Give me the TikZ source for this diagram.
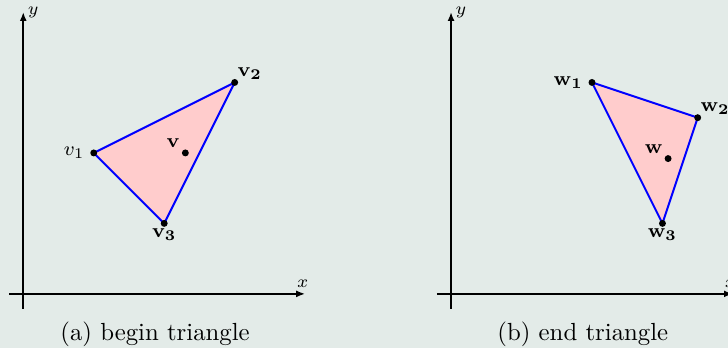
\documentclass[tikz,border=0pt]{standalone}
\usepackage{amsmath,amssymb}
\usepackage{xcolor}
\definecolor{paper}{HTML}{E3EBE8}
\definecolor{blush}{HTML}{FFCCCC}
\usepackage{tikz}
\usetikzlibrary{arrows.meta,positioning,calc}
\tikzset{
  >={Latex[length=3.6pt,width=2.8pt]},
  axis/.style   ={->,draw=black,thick},
  axlbl/.style  ={font=\scriptsize,inner sep=2pt},
  tri/.style    ={draw=blue,thick,fill=blush,line join=round},
  lbl/.style    ={font=\footnotesize,inner sep=2pt},
  captxt/.style ={font=\normalsize,inner sep=1pt},
}

\begin{document}
\begin{tikzpicture}
\path[use as bounding box,fill=paper] (-0.33,-0.77) rectangle (10.0,4.17);
% (a) begin triangle
\coordinate (ax0) at (-0.2,0); \coordinate (ax1) at (4,0);
\coordinate (ay0) at (0,-0.21); \coordinate (ay1) at (0,4);
\draw[axis] (ax0) -- (ax1) node[above,axlbl,xshift=-1pt] (axl) {$x$};
\draw[axis] (ay0) -- (ay1) node[right,axlbl,inner sep=1.5pt] (ayl) {$y$};
\coordinate (v1) at (1,2);
\coordinate (v2) at (3,3);
\coordinate (v3) at (2,1);
\coordinate (v) at (2.3,2);
\draw[tri] (v1) -- (v2) -- (v3) -- cycle;
\foreach \p in {v1,v2,v3,v}
  {\fill (\p) circle (1.4pt);}
\node[lbl,left,inner sep=3.5pt] (lv1) at (v1) {$v_1$};
\node[lbl,above right,inner sep=1pt] (lv2) at (v2) {$\mathbf{v_2}$};
\node[lbl,below] (lv3) at (v3) {$\mathbf{v_3}$};
\node[lbl,above left] (lv) at (v) {$\mathbf{v}$};
\node[captxt] (capa) at (1.87,-0.57) {(a) begin triangle};
% (b) end triangle
\begin{scope}[xshift=6.07cm]
\coordinate (bx0) at (-0.2,0); \coordinate (bx1) at (4,0);
\coordinate (by0) at (0,-0.21); \coordinate (by1) at (0,4);
\draw[axis] (bx0) -- (bx1) node[above,axlbl,xshift=-1pt] (bxl) {$x$};
\draw[axis] (by0) -- (by1) node[right,axlbl,inner sep=1.5pt] (byl) {$y$};
\coordinate (w1) at (2,3);
\coordinate (w2) at (3.5,2.5);
\coordinate (w3) at (3,1);
\coordinate (w) at (3.08,1.92);
\draw[tri] (w1) -- (w2) -- (w3) -- cycle;
\foreach \p in {w1,w2,w3,w}
  {\fill (\p) circle (1.4pt);}
\node[lbl,left,inner sep=3.5pt] (lw1) at (w1) {$\mathbf{w_1}$};
\node[lbl,above right,inner sep=1pt] (lw2) at (w2) {$\mathbf{w_2}$};
\node[lbl,below] (lw3) at (w3) {$\mathbf{w_3}$};
\node[lbl,above left] (lw) at (w) {$\mathbf{w}$};
\node[captxt] (capb) at (1.87,-0.57) {(b) end triangle};
\end{scope}
\end{tikzpicture}
\end{document}
